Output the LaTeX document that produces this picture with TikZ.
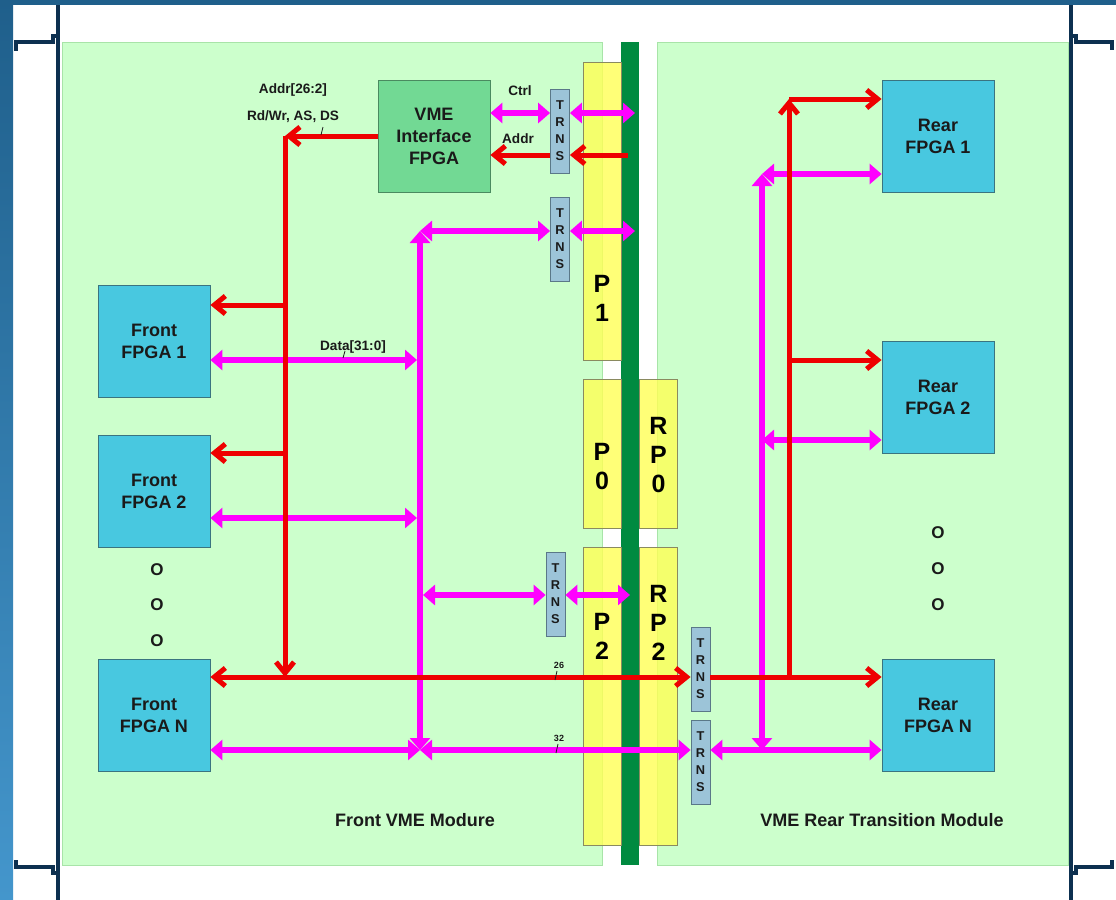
\documentclass[tikz,border=0pt]{standalone}
\usepackage{fontspec}
\setmainfont{Liberation Sans}
\usepackage{tikz}
\usetikzlibrary{arrows.meta,positioning}
\definecolor{framenavy}{HTML}{0D3050}
\definecolor{frameblue}{HTML}{1F5F8B}
\definecolor{framelight}{HTML}{4496CC}
\definecolor{panelgreen}{HTML}{CCFFCC}
\definecolor{paneledge}{HTML}{A8E4A8}
\definecolor{busbar}{HTML}{008A40}
\definecolor{conyellow}{HTML}{FFFF55}
\definecolor{conedge}{HTML}{8A8A60}
\definecolor{fpgacyan}{HTML}{48C8E0}
\definecolor{fpgaedge}{HTML}{3A7480}
\definecolor{vmegreen}{HTML}{72D994}
\definecolor{vmeedge}{HTML}{4A8A60}
\definecolor{trnsblue}{HTML}{9CC4D8}
\definecolor{trnsedge}{HTML}{5A7888}
\definecolor{busred}{HTML}{EE0000}
\definecolor{busmag}{HTML}{FF00FF}
\definecolor{textgray}{HTML}{1A1A1A}
\tikzset{
  fpgabox/.style={draw=fpgaedge, fill=fpgacyan, align=center, inner sep=0pt, minimum width=56pt, minimum height=56pt, text=textgray, font=\bfseries\fontsize{9}{11}\selectfont},
  vmebox/.style={fpgabox, draw=vmeedge, fill=vmegreen},
  trnsbox/.style={draw=trnsedge, fill=trnsblue, align=center, inner sep=0pt, minimum width=9.5pt, minimum height=42pt, text=textgray, font=\bfseries\fontsize{6.4}{8.5}\selectfont},
  connbox/.style={draw=conedge, fill=conyellow, fill opacity=0.8, inner sep=0pt, minimum width=19pt},
  conntext/.style={align=center, text=black, font=\bfseries\fontsize{12.5}{14.5}\selectfont},
  redbus/.style={draw=busred, line width=2.5pt, >={Straight Barb[length=5.5pt, width=9pt]}},
  magbus/.style={draw=busmag, line width=3pt, >={Triangle[length=6pt, width=10pt]}},
  buslabel/.style={text=textgray, font=\bfseries\fontsize{6.8}{8}\selectfont},
  widthlabel/.style={text=textgray, font=\bfseries\fontsize{4.5}{5}\selectfont},
  bustick/.style={draw=textgray, line width=0.4pt},
  dotlabel/.style={text=textgray, font=\bfseries\fontsize{8.5}{10}\selectfont},
  modlabel/.style={text=textgray, font=\bfseries\fontsize{9}{11}\selectfont},
  rack/.style={draw=framenavy, line width=1.6pt}
}
\begin{document}
\begin{tikzpicture}[x=0.5pt, y=-0.5pt]
  \useasboundingbox (0,0) rectangle (1116,900);
  % crate frame
  \fill[white] (0,0) rectangle (1116,900);
  \shade[top color=frameblue, bottom color=framelight] (0,0) rectangle (13,900);
  \fill[frameblue] (0,0) rectangle (1116,5);
  \draw[rack] (58,5) -- (58,900);
  \draw[rack] (1071,5) -- (1071,900);
  \draw[rack] (58,36) -- (53,36) -- (53,42) -- (16,42) -- (16,51);
  \draw[rack] (58,873) -- (53,873) -- (53,867) -- (16,867) -- (16,860);
  \draw[rack] (1071,36) -- (1076,36) -- (1076,42) -- (1112,42) -- (1112,50);
  \draw[rack] (1071,873) -- (1076,873) -- (1076,867) -- (1112,867) -- (1112,860);

  % boards and backplane
  \draw[paneledge, fill=panelgreen] (62,42) rectangle (602,865);
  \draw[paneledge, fill=panelgreen] (657,42) rectangle (1068,865);
  \fill[busbar] (621,42) rectangle (639,865);

  % connectors
  \node[connbox, minimum height=149pt] (p1) at (602,211) {};
  \node[connbox, minimum height=74.5pt] (p0) at (602,453.5) {};
  \node[connbox, minimum height=74.5pt] (rp0) at (658.5,453.5) {};
  \node[connbox, minimum height=149pt] (p2) at (602,696.5) {};
  \node[connbox, minimum height=149pt] (rp2) at (658.5,696.5) {};
  \node[conntext] (p1txt) at (602,298) {P\\1};
  \node[conntext] (p0txt) at (602,467) {P\\0};
  \node[conntext] (rp0txt) at (658.5,455) {R\\P\\0};
  \node[conntext] (p2txt) at (602,636) {P\\2};
  \node[conntext] (rp2txt) at (658.5,623) {R\\P\\2};

  % devices
  \node[vmebox] (vme) at (434,136) {VME\\Interface\\FPGA};
  \node[fpgabox] (ff1) at (154,341.5) {Front\\FPGA 1};
  \node[fpgabox] (ff2) at (154,491) {Front\\FPGA 2};
  \node[fpgabox] (ffn) at (154,715) {Front\\FPGA N};
  \node[fpgabox] (r1) at (938,136) {Rear\\FPGA 1};
  \node[fpgabox] (r2) at (938,397.5) {Rear\\FPGA 2};
  \node[fpgabox] (rn) at (938,715) {Rear\\FPGA N};
  \node[trnsbox] (t1) at (560,131) {T\\R\\N\\S};
  \node[trnsbox] (t2) at (560,239) {T\\R\\N\\S};
  \node[trnsbox] (t3) at (555.5,594) {T\\R\\N\\S};
  \node[trnsbox] (t4) at (700.5,669) {T\\R\\N\\S};
  \node[trnsbox] (t5) at (700.5,762) {T\\R\\N\\S};

  % bus corners
  \coordinate (aTop) at (285,136);
  \coordinate (aBot) at (285,677);
  \coordinate (a1) at (285,305);
  \coordinate (a2) at (285,453);
  \coordinate (dTop) at (420,231);
  \coordinate (dBot) at (420,750);
  \coordinate (d1) at (417,360);
  \coordinate (d2) at (417,518);
  \coordinate (d3) at (423,595);
  \coordinate (rTop) at (789,99);
  \coordinate (rMid) at (789,360);
  \coordinate (rBot) at (789,677);
  \coordinate (mTop) at (762,174);
  \coordinate (mMid) at (762,440);
  \coordinate (mBot) at (762,750);
  \coordinate (ctrlOut) at (635,113);
  \coordinate (addrIn) at (628,155);
  \coordinate (p1d) at (635,231);
  \coordinate (p2d) at (630,595);

  % data / control (magenta)
  \draw[magbus, <->] (vme.east |- ctrlOut) -- (t1.west |- ctrlOut);
  \draw[magbus, <->] (t1.east |- ctrlOut) -- (ctrlOut);
  \draw[magbus, <->] (t2.east |- p1d) -- (p1d);
  \draw[magbus, <->] (dTop) -- (t2.west |- dTop);
  \draw[magbus, <->] (dBot) -- (dTop);
  \draw[magbus, <->] (ff1.east |- d1) -- (d1);
  \draw[magbus, <->] (ff2.east |- d2) -- (d2);
  \draw[magbus, <->] (d3) -- (t3.west |- d3);
  \draw[magbus, <->] (t3.east |- p2d) -- (p2d);
  \draw[magbus, <->] (ffn.east |- dBot) -- (dBot);
  \draw[magbus, <->] (dBot) -- (t5.west |- dBot);
  \draw[magbus, <->] (t5.east |- mBot) -- (rn.west |- mBot);
  \draw[magbus, <->] (mBot) -- (mTop);
  \draw[magbus, <->] (mTop) -- (r1.west |- mTop);
  \draw[magbus, <->] (mMid) -- (r2.west |- mMid);

  % address (red)
  \draw[redbus, ->] (addrIn) -- (t1.east |- addrIn);
  \draw[redbus, ->] (t1.west |- addrIn) -- (vme.east |- addrIn);
  \draw[redbus, ->] (vme.west) -- (aTop);
  \draw[redbus, ->] (aTop) -- (aBot);
  \draw[redbus, ->] (a1) -- (ff1.east |- a1);
  \draw[redbus, ->] (a2) -- (ff2.east |- a2);
  \draw[redbus, <->] (ffn.east |- aBot) -- (t4.west |- aBot);
  \draw[redbus, ->] (t4.east |- aBot) -- (rn.west |- aBot);
  \draw[redbus, ->] (rBot) -- (rTop);
  \draw[redbus, ->] (rTop) -- (r1.west |- rTop);
  \draw[redbus, ->] (rMid) -- (r2.west |- rMid);

  % labels
  \node[buslabel] (addrlbl) at (293,90) {Addr[26:2]};
  \node[buslabel] (ctllbl) at (293,117) {Rd/Wr, AS, DS};
  \node[buslabel] (ctrllbl) at (520,91) {Ctrl};
  \node[buslabel] (addrinlbl) at (518,139) {Addr};
  \node[buslabel] (datalbl) at (353,347) {Data[31:0]};
  \node[widthlabel] (w26) at (559,665) {26};
  \node[widthlabel] (w32) at (559,738) {32};
  \draw[bustick] (321,135) -- (323,127);
  \draw[bustick] (343,358) -- (345,351);
  \draw[bustick] (555,680) -- (557,671);
  \draw[bustick] (556,753) -- (558,744);

  \node[dotlabel] (fd1) at (157,570) {O};
  \node[dotlabel] (fd2) at (157,605) {O};
  \node[dotlabel] (fd3) at (157,641) {O};
  \node[dotlabel] (rd1) at (938,533) {O};
  \node[dotlabel] (rd2) at (938,569) {O};
  \node[dotlabel] (rd3) at (938,605) {O};

  \node[modlabel] (frontlbl) at (415,820) {Front VME Modure};
  \node[modlabel] (rearlbl) at (882,820) {VME Rear Transition Module};
\end{tikzpicture}
\end{document}
